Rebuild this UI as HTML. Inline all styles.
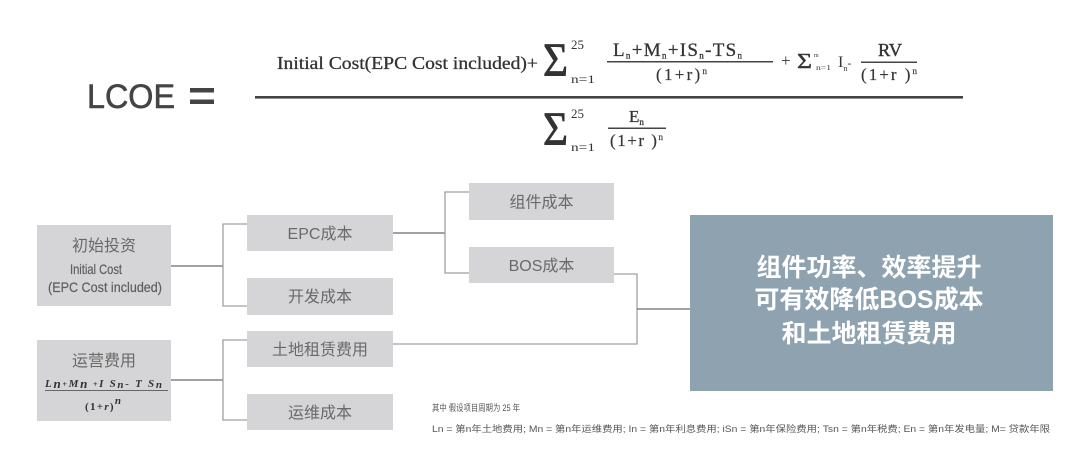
<!DOCTYPE html>
<html><head><meta charset="utf-8"><style>
html,body{margin:0;padding:0;background:#fff;}
svg{display:block;}
.sf{font-family:"Liberation Serif","DejaVu Serif",serif;fill:#333;}
.ss{font-family:"Liberation Sans","Noto Sans CJK SC",sans-serif;}
.bx{fill:#d5d5d7;}
.bt{font-family:"Liberation Sans","Noto Sans CJK SC",sans-serif;fill:#696969;font-size:16px;text-anchor:middle;}
.cd{stroke:#6a6a6a;stroke-width:1.3;fill:none;}
.cl{stroke:#a0a0a0;stroke-width:1.3;fill:none;}
</style></head><body>
<svg width="1080" height="471" viewBox="0 0 1080 471" xmlns="http://www.w3.org/2000/svg">
<rect width="1080" height="471" fill="#fff"/>

<!-- LCOE = -->
<text class="ss" x="87" y="108" font-size="34" fill="#444" stroke="#444" stroke-width="0.6" textLength="88" lengthAdjust="spacingAndGlyphs">LCOE</text>
<rect x="190" y="88" width="24" height="4.5" fill="#444"/>
<rect x="190" y="99.5" width="24" height="4.5" fill="#444"/>

<!-- main fraction line -->
<rect x="255" y="96" width="708" height="2.6" fill="#444"/>

<!-- numerator -->
<text class="sf" x="277" y="69" font-size="18" stroke="#333" stroke-width="0.3" textLength="261" lengthAdjust="spacingAndGlyphs">Initial Cost(EPC Cost included)+</text>
<text class="sf" x="543" y="76" font-size="48" stroke="#333" stroke-width="0.8" textLength="25" lengthAdjust="spacingAndGlyphs">Σ</text>
<text class="sf" x="571" y="49" font-size="13">25</text>
<text class="sf" x="571" y="83" font-size="12" textLength="24" lengthAdjust="spacingAndGlyphs">n=1</text>

<text class="sf" x="613" y="56" font-size="19" stroke="#333" stroke-width="0.3" textLength="129" lengthAdjust="spacing">L<tspan font-size="9" dy="2.5">n</tspan><tspan dy="-2.5">+M</tspan><tspan font-size="9" dy="2.5">n</tspan><tspan dy="-2.5">+IS</tspan><tspan font-size="9" dy="2.5">n</tspan><tspan dy="-2.5">-TS</tspan><tspan font-size="9" dy="2.5">n</tspan></text>
<rect x="607" y="61" width="166" height="1.5" fill="#444"/>
<text class="sf" x="656" y="80" font-size="17" stroke="#333" stroke-width="0.2" textLength="51" lengthAdjust="spacing">(1+r)<tspan font-size="9" dy="-6">n</tspan></text>

<text class="sf" x="781" y="66" font-size="17">+</text>
<text class="sf" x="797" y="68" font-size="21" stroke="#333" stroke-width="0.4" textLength="15" lengthAdjust="spacingAndGlyphs">Σ</text>
<text class="sf" x="814" y="57" font-size="6">m</text>
<text class="sf" x="816" y="70" font-size="7" textLength="15" lengthAdjust="spacingAndGlyphs">n=1</text>
<text class="sf" x="838" y="67" font-size="16">I<tspan font-size="8" dy="4">n</tspan><tspan dy="-4" font-size="12">-</tspan></text>
<text class="sf" x="878" y="56" font-size="18" stroke="#333" stroke-width="0.4" textLength="24" lengthAdjust="spacingAndGlyphs">RV</text>
<rect x="861" y="61.5" width="56" height="1.5" fill="#444"/>
<text class="sf" x="861" y="80" font-size="17" stroke="#333" stroke-width="0.2" textLength="56" lengthAdjust="spacing">(1+r )<tspan font-size="9" dy="-6">n</tspan></text>

<!-- denominator -->
<text class="sf" x="543" y="145" font-size="48" stroke="#333" stroke-width="0.8" textLength="25" lengthAdjust="spacingAndGlyphs">Σ</text>
<text class="sf" x="571" y="118" font-size="13">25</text>
<text class="sf" x="571" y="151" font-size="12" textLength="24" lengthAdjust="spacingAndGlyphs">n=1</text>
<text class="sf" x="629" y="122" font-size="17" stroke="#333" stroke-width="0.3">E<tspan font-size="9" dy="3">n</tspan></text>
<rect x="608" y="127.5" width="58" height="1.5" fill="#444"/>
<text class="sf" x="610" y="146" font-size="17" stroke="#333" stroke-width="0.2" textLength="53" lengthAdjust="spacing">(1+r )<tspan font-size="9" dy="-6">n</tspan></text>

<!-- connectors -->
<path class="cd" d="M171 266H223"/>
<path class="cl" d="M247 224H223V306H247"/>
<path class="cd" d="M171 380H223"/>
<path class="cl" d="M247 340H223V420H247"/>
<path class="cd" d="M393 233H445"/>
<path class="cl" d="M469 192H445V273H469"/>
<path class="cl" d="M614 274H637V344H393"/>
<path class="cd" d="M637 309H691"/>

<!-- left boxes -->
<rect class="bx" x="37" y="225" width="134" height="81"/>
<text class="bt" x="104" y="251">初始投资</text>
<text class="ss" x="70" y="274" font-size="14" fill="#5e5e5e" stroke="#5e5e5e" stroke-width="0.2" textLength="52" lengthAdjust="spacingAndGlyphs">Initial Cost</text>
<text class="ss" x="48" y="292" font-size="14" fill="#5e5e5e" stroke="#5e5e5e" stroke-width="0.2" textLength="114" lengthAdjust="spacingAndGlyphs">(EPC Cost included)</text>

<rect class="bx" x="37" y="340" width="134" height="81"/>
<text class="bt" x="104" y="366">运营费用</text>
<text class="sf" x="45" y="387" font-size="11" font-weight="bold" font-style="italic" fill="#555" textLength="117" lengthAdjust="spacing">L<tspan font-size="13" dy="1">n</tspan><tspan dy="-1" font-size="8">+</tspan>M<tspan font-size="13" dy="1">n</tspan><tspan dy="-1" font-size="8"> +</tspan>I S<tspan font-size="11" dy="1">n</tspan><tspan dy="-1">- </tspan>T S<tspan font-size="11" dy="1">n</tspan></text>
<rect x="45" y="390" width="123" height="1" fill="#666"/>
<text class="sf" x="85" y="410" font-size="11" font-weight="bold" fill="#555" textLength="36" lengthAdjust="spacing">(1+<tspan font-style="italic">r</tspan>)<tspan font-size="11" dy="-6" font-style="italic">n</tspan></text>

<!-- middle boxes -->
<rect class="bx" x="247" y="215" width="146" height="36"/>
<text class="bt" x="320" y="239">EPC成本</text>
<rect class="bx" x="247" y="278" width="146" height="37"/>
<text class="bt" x="320" y="302">开发成本</text>
<rect class="bx" x="247" y="331" width="146" height="36"/>
<text class="bt" x="320" y="355">土地租赁费用</text>
<rect class="bx" x="247" y="394" width="146" height="36"/>
<text class="bt" x="320" y="418">运维成本</text>

<rect class="bx" x="469" y="183" width="145" height="37"/>
<text class="bt" x="541.5" y="207.5">组件成本</text>
<rect class="bx" x="469" y="247" width="145" height="36"/>
<text class="bt" x="541.5" y="271">BOS成本</text>

<!-- big box -->
<rect x="690" y="215" width="363" height="176" fill="#8ea2af"/>
<g font-family="'Liberation Sans','Noto Sans CJK SC',sans-serif" font-size="25" font-weight="bold" fill="#fff" text-anchor="middle">
<text x="869" y="276">组件功率、效率提升</text>
<text x="869" y="308">可有效降低BOS成本</text>
<text x="869" y="342">和土地租赁费用</text>
</g>

<!-- footnote -->
<text class="ss" x="432" y="411" font-size="9" fill="#555" textLength="88" lengthAdjust="spacingAndGlyphs">其中 假设项目周期为 25 年</text>
<text class="ss" x="432" y="432" font-size="9" fill="#555" textLength="618" lengthAdjust="spacingAndGlyphs">Ln = 第n年土地费用; Mn = 第n年运维费用; In   = 第n年利息费用; iSn = 第n年保险费用;  Tsn = 第n年税费; En  = 第n年发电量; M= 贷款年限</text>
</svg>
</body></html>
